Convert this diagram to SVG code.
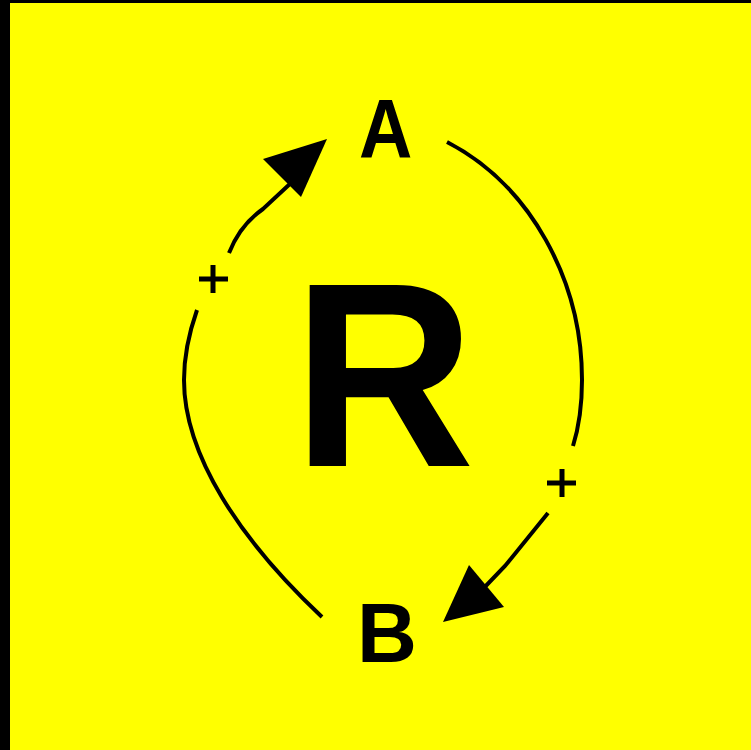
<svg xmlns="http://www.w3.org/2000/svg" width="751" height="750" viewBox="0 0 751 750">
<style>
.lbl{font-family:"Liberation Sans",Arial,sans-serif;font-weight:bold;fill:#000}
.arc{fill:none;stroke:#000;stroke-width:4}
.plus{fill:none;stroke:#000;stroke-width:5}
.head{fill:#000}
</style>
<rect x="0" y="0" width="751" height="750" fill="#000"/>
<rect x="10" y="3" width="741" height="747" fill="#ff0"/>
<g id="node-R"><text class="lbl" transform="translate(311,466) scale(0.958,1)" x="-19" y="0" font-size="263">R</text></g>
<g id="node-A"><text class="lbl" transform="translate(359,158) scale(0.89,1)" x="0" y="0" font-size="83">A</text></g>
<g id="node-B"><text class="lbl" x="357" y="662" font-size="83">B</text></g>
<g id="connectors">
<path class="arc" d="M322,617 C240,540 184,455 184,380 C184,355 190,330 197,310"/>
<path class="arc" d="M229,253 Q240,225 263,209 L292,182"/>
<polygon class="head" points="327,139 263,159 301,197"/>
<path class="arc" d="M447,142 C530,185 582,280 582,380 C582,410 578,430 573,446"/>
<path class="arc" d="M548,513 L505,566 L480,592"/>
<polygon class="head" points="443,622 469,565 504,607"/>
<path class="plus" d="M199,279 H228 M213,265 V293"/>
<path class="plus" d="M547,483 H576 M562,469 V497"/>
</g>
</svg>
